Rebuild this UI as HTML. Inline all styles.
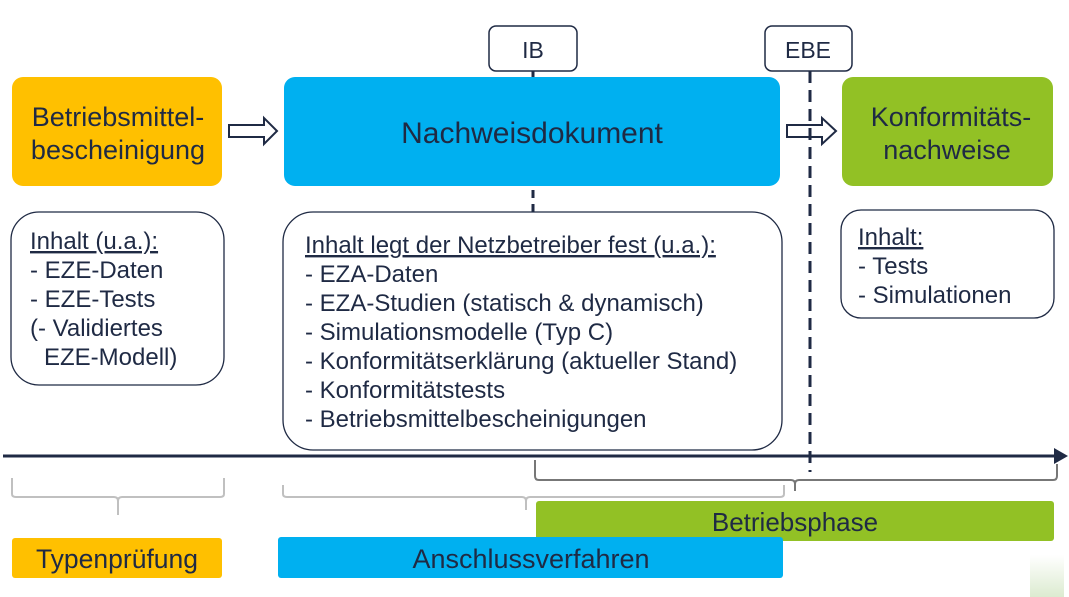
<!DOCTYPE html>
<html><head><meta charset="utf-8"><style>
html,body{margin:0;padding:0;background:#fff;}
svg{display:block;font-family:"Liberation Sans",sans-serif;}
</style></head><body>
<svg width="1069" height="597" viewBox="0 0 1069 597" xmlns="http://www.w3.org/2000/svg">
<defs><linearGradient id="g" x1="0" y1="0" x2="0" y2="1"><stop offset="0" stop-color="#fff"/><stop offset="1" stop-color="#dcebd0"/></linearGradient></defs>
<rect x="1030" y="555" width="34" height="42" fill="url(#g)"/>
<rect x="12" y="77" width="210" height="109" rx="11" fill="#ffc000"/>
<text x="118" y="126" font-size="27" fill="#1f2a44" text-anchor="middle">Betriebsmittel-</text>
<text x="118" y="159" font-size="27" fill="#1f2a44" text-anchor="middle">bescheinigung</text>
<rect x="284" y="77" width="496" height="109" rx="11" fill="#00b0f0"/>
<text x="532" y="143" font-size="30" fill="#1f2a44" text-anchor="middle">Nachweisdokument</text>
<rect x="842" y="77" width="211" height="109" rx="11" fill="#92c125"/>
<text x="951" y="126" font-size="27" fill="#1f2a44" text-anchor="middle">Konformitäts-</text>
<text x="947" y="159" font-size="27" fill="#1f2a44" text-anchor="middle">nachweise</text>
<polygon points="229,125 264,125 264,118 277,131 264,144 264,137 229,137" fill="#fff" stroke="#1f2a44" stroke-width="2"/>
<polygon points="787,125 822,125 822,118 836,131 822,144 822,137 787,137" fill="#fff" stroke="#1f2a44" stroke-width="2"/>
<line x1="533" y1="71" x2="533" y2="77" stroke="#1f2a44" stroke-width="3"/>
<line x1="533" y1="190" x2="533" y2="212" stroke="#1f2a44" stroke-width="3" stroke-dasharray="8,6"/>
<line x1="810" y1="71" x2="810" y2="472" stroke="#1f2a44" stroke-width="3" stroke-dasharray="12,7"/>
<rect x="489" y="26" width="88" height="45" rx="7" fill="#fff" stroke="#1f2a44" stroke-width="1.5"/>
<text x="533" y="58" font-size="23" fill="#1f2a44" text-anchor="middle">IB</text>
<rect x="765" y="26" width="87" height="45" rx="7" fill="#fff" stroke="#1f2a44" stroke-width="1.5"/>
<text x="808" y="58" font-size="23" fill="#1f2a44" text-anchor="middle">EBE</text>
<rect x="11" y="212" width="213" height="173" rx="28" fill="#fff" stroke="#1f2a44" stroke-width="1.3"/>
<g font-size="24" fill="#1f2a44">
<text x="30" y="249" text-decoration="underline">Inhalt (u.a.):</text>
<text x="30" y="278">- EZE-Daten</text>
<text x="30" y="307">- EZE-Tests</text>
<text x="30" y="336">(- Validiertes</text>
<text x="44" y="365">EZE-Modell)</text>
</g>
<rect x="283" y="212" width="499" height="238" rx="30" fill="#fff" stroke="#1f2a44" stroke-width="1.3"/>
<g font-size="24" fill="#1f2a44">
<text x="305" y="253" text-decoration="underline">Inhalt legt der Netzbetreiber fest (u.a.):</text>
<text x="305" y="282">- EZA-Daten</text>
<text x="305" y="311">- EZA-Studien (statisch &amp; dynamisch)</text>
<text x="305" y="340">- Simulationsmodelle (Typ C)</text>
<text x="305" y="369">- Konformitätserklärung (aktueller Stand)</text>
<text x="305" y="398">- Konformitätstests</text>
<text x="305" y="427">- Betriebsmittelbescheinigungen</text>
</g>
<rect x="841" y="210" width="213" height="108" rx="20" fill="#fff" stroke="#1f2a44" stroke-width="1.3"/>
<g font-size="24" fill="#1f2a44">
<text x="858" y="245" text-decoration="underline">Inhalt:</text>
<text x="858" y="274">- Tests</text>
<text x="858" y="303">- Simulationen</text>
</g>
<line x1="3" y1="456" x2="1056" y2="456" stroke="#1f2a44" stroke-width="3"/>
<polygon points="1054,448 1068,456 1054,464" fill="#1f2a44"/>
<path d="M12,478 V494 Q12,497 16,497 H114 Q118,497 118,501 V515 M118,501 Q118,497 122,497 H220 Q224,497 224,494 V478" fill="none" stroke="#c0c0c0" stroke-width="2"/>
<path d="M283,485 V494 Q283,497 287,497 H522 Q526,497 526,501 V510 M526,501 Q526,497 530,497 H780 Q784,497 784,494 V485" fill="none" stroke="#c0c0c0" stroke-width="2"/>
<path d="M535,460 V476 Q535,480 539,480 H791 Q795,480 795,484 V491 M795,484 Q795,480 799,480 H1053 Q1057,480 1057,476 V464" fill="none" stroke="#777" stroke-width="2"/>
<rect x="536" y="501" width="518" height="40" rx="3" fill="#92c125"/>
<text x="795" y="531" font-size="26" fill="#1f2a44" text-anchor="middle">Betriebsphase</text>
<rect x="12" y="538" width="210" height="40" rx="3" fill="#ffc000"/>
<text x="117" y="568" font-size="26.5" fill="#1f2a44" text-anchor="middle">Typenprüfung</text>
<rect x="278" y="537" width="505" height="41" rx="3" fill="#00b0f0"/>
<text x="531" y="568" font-size="27" fill="#1f2a44" text-anchor="middle">Anschlussverfahren</text>
</svg>
</body></html>
